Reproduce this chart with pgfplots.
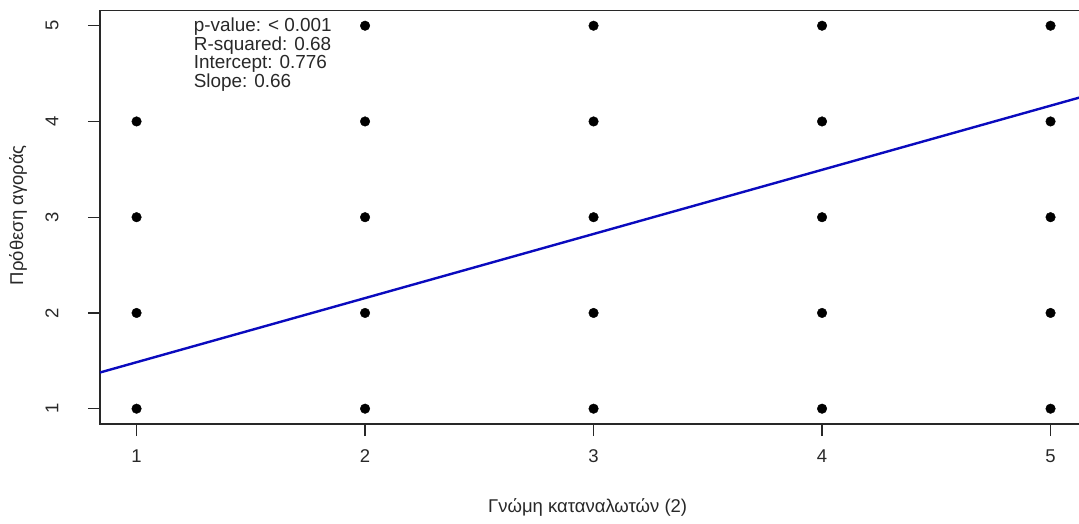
\documentclass[border=0pt]{standalone}
\usepackage{fontspec}
\setmainfont{Liberation Sans}
\usepackage{pgfplots}
\pgfplotsset{compat=1.18}
\definecolor{fitblue}{RGB}{10,10,190}
\definecolor{axgray}{RGB}{40,40,40}
\begin{document}
\begin{tikzpicture}
\begin{axis}[
  at={(0pt,0pt)}, anchor=south west,
  scale only axis,
  width=987.1pt, height=413.6pt,
  xmin=0.84, xmax=5.16, ymin=0.84, ymax=5.16,
  xtick={1,2,3,4,5}, ytick={1,2,3,4,5},
  xtick pos=bottom, ytick pos=left,
  tick align=outside,
  major tick length=12pt,
  every tick/.style={axgray, line width=1.2pt},
  axis line style={axgray, line width=1.3pt},
  /pgf/number format/assume math mode=true,
  tick label style={font=\fontsize{18.5}{22}\selectfont, text=axgray},
  xticklabel style={anchor=center, yshift=-20pt},
  yticklabel style={anchor=center, xshift=-36pt, rotate=90},
  xlabel={Γνώμη καταναλωτών (2)},
  ylabel={Πρόθεση αγοράς},
  label style={font=\fontsize{18.5}{22}\selectfont, text=axgray},
  xlabel style={at={(axis description cs:0.494,-0.2007)}, anchor=center},
  ylabel style={at={(axis description cs:-0.083,0.505)}, anchor=center, rotate=0},
  clip=true,
]
\addplot[only marks, mark=*, mark size=4.8pt, black] coordinates {
  (1,1) (1,2) (1,3) (1,4)
  (2,1) (2,2) (2,3) (2,4) (2,5)
  (3,1) (3,2) (3,3) (3,4) (3,5)
  (4,1) (4,2) (4,3) (4,4) (4,5)
  (5,1) (5,2) (5,3) (5,4) (5,5)
};
\addplot[fitblue, line width=2.4pt] coordinates {(0.84,1.378) (5.16,4.272)};
\node[anchor=north west, align=left, inner sep=0pt, text=axgray,
      font=\fontsize{18.9}{18.6}\selectfont] at (axis cs:1.25,5.085)
  {p-value: < 0.001\\R-squared: 0.68\\Intercept: 0.776\\Slope: 0.66};
\end{axis}
\pgfresetboundingbox
\useasboundingbox (-100pt,-99pt) rectangle (979pt,424pt);
\end{tikzpicture}
\end{document}
